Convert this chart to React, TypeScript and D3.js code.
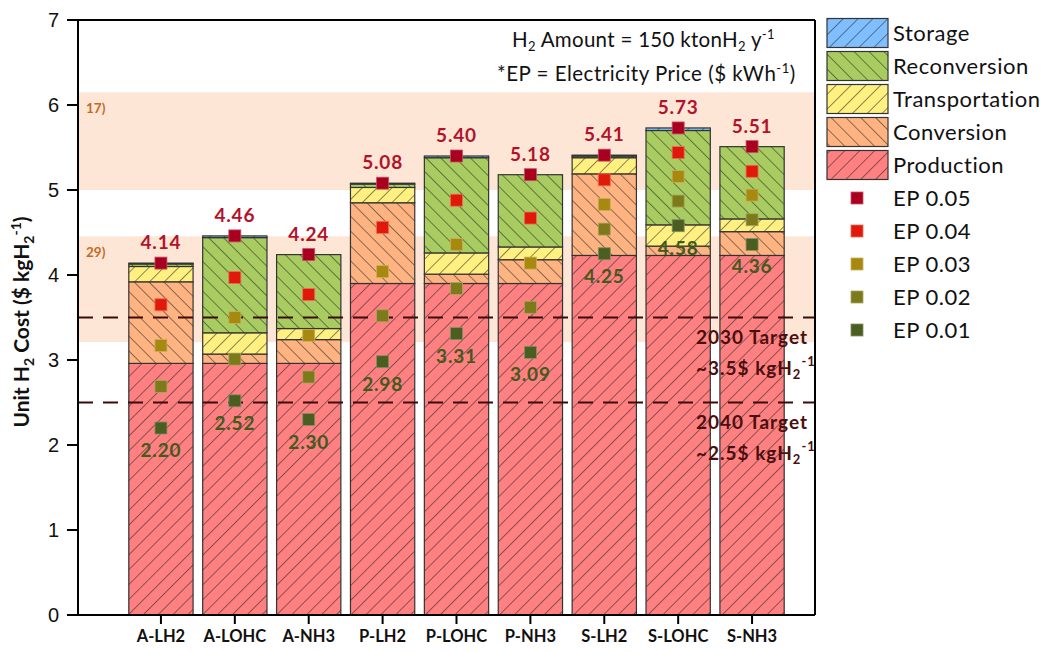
import React from "react";
import * as d3 from "d3";

// Categories (region – carrier)
const categories = ["A-LH2", "A-LOHC", "A-NH3", "P-LH2", "P-LOHC", "P-NH3", "S-LH2", "S-LOHC", "S-NH3"];

// Cost components ($ per kg H2)
const production = [2.96, 2.96, 2.96, 3.9, 3.9, 3.9, 4.23, 4.23, 4.23];
const conversion = [0.96, 0.11, 0.28, 0.95, 0.11, 0.28, 0.96, 0.11, 0.28];
const transportation = [0.18, 0.25, 0.13, 0.18, 0.25, 0.15, 0.19, 0.25, 0.15];
const reconversion = [0.03, 1.12, 0.87, 0.04, 1.12, 0.85, 0.02, 1.11, 0.85];
const storage = [0.01, 0.02, 0.0, 0.01, 0.02, 0.0, 0.01, 0.03, 0.0];

// Total unit cost at different electricity prices ($ per kWh)
const ep05 = [4.14, 4.46, 4.24, 5.08, 5.4, 5.18, 5.41, 5.73, 5.51];
const ep04 = [3.65, 3.97, 3.77, 4.56, 4.88, 4.67, 5.12, 5.44, 5.22];
const ep03 = [3.17, 3.5, 3.29, 4.04, 4.36, 4.14, 4.83, 5.16, 4.94];
const ep02 = [2.69, 3.01, 2.8, 3.52, 3.84, 3.62, 4.54, 4.87, 4.65];
const ep01 = [2.2, 2.52, 2.3, 2.98, 3.31, 3.09, 4.25, 4.58, 4.36];

const yTicks = [0, 1, 2, 3, 4, 5, 6, 7];

// Literature ranges shown as shaded bands
const bands = [
  { label: "17)", lo: 5.0, hi: 6.15 },
  { label: "29)", lo: 3.21, hi: 4.455 },
];

const targets = [
  { year: "2030 Target", value: 3.5, text: "~3.5$ kgH" },
  { year: "2040 Target", value: 2.5, text: "~2.5$ kgH" },
];

const components = [
  { key: "Production", values: production, fill: "#ff8080", hatch: "fwd" },
  { key: "Conversion", values: conversion, fill: "#ffb380", hatch: "back" },
  { key: "Transportation", values: transportation, fill: "#fff080", hatch: "fwd" },
  { key: "Reconversion", values: reconversion, fill: "#a8cc60", hatch: "back" },
  { key: "Storage", values: storage, fill: "#80bfff", hatch: "fwd" },
];

const epSeries = [
  { key: "EP 0.05", values: ep05, fill: "#a8001e", stroke: "#c8506a" },
  { key: "EP 0.04", values: ep04, fill: "#df1a0a", stroke: "#f06a5a" },
  { key: "EP 0.03", values: ep03, fill: "#a88910", stroke: "#c8b060" },
  { key: "EP 0.02", values: ep02, fill: "#7d7a1c", stroke: "#a8a660" },
  { key: "EP 0.01", values: ep01, fill: "#4b5e20", stroke: "#80906a" },
];

const W = 1048;
const H = 652;
const plot = { left: 78, right: 815, top: 20, bottom: 615 };
const FONT = "Lato, 'Open Sans', sans-serif";

export default function App() {
  const y = d3.scaleLinear().domain([0, 7]).range([plot.bottom, plot.top]);
  const x = d3
    .scaleBand<string>()
    .domain(categories)
    .range([124, 789])
    .paddingInner(0.13)
    .paddingOuter(0.065);

  const table = categories.map((c, i) => {
    const row: Record<string, number | string> = { cat: c };
    components.forEach((comp) => (row[comp.key] = comp.values[i]));
    return row;
  });
  const stacked = d3.stack<any>().keys(components.map((c) => c.key))(table);

  const bw = x.bandwidth();
  const markerSize = 12;

  const legendRows = [...components].reverse();

  return (
    <svg
      width={W}
      height={H}
      style={{ position: "absolute", left: 0, top: 0, background: "#fff" }}
      fontFamily={FONT}
    >
      <defs>
        {components.map((c) => (
          <pattern
            key={c.key}
            id={`hatch-${c.key}`}
            patternUnits="userSpaceOnUse"
            width={10.5}
            height={10.5}
            patternTransform={`rotate(${c.hatch === "fwd" ? 45 : -45})`}
          >
            <rect width={10.5} height={10.5} fill={c.fill} />
            <line x1={0} y1={0} x2={0} y2={10.5} stroke="#2a2a2a" strokeWidth={1.1} />
          </pattern>
        ))}
      </defs>

      {/* shaded literature bands */}
      {bands.map((b) => (
        <g key={b.label}>
          <rect
            x={plot.left}
            width={plot.right - plot.left}
            y={y(b.hi)}
            height={y(b.lo) - y(b.hi)}
            fill="#fde6d6"
          />
          <text
            x={plot.left + 8}
            y={y(b.hi) + 21}
            fontSize={13.5}
            fontWeight="bold"
            fill="#c46a28"
          >
            {b.label}
          </text>
        </g>
      ))}

      {/* stacked bars */}
      {stacked.map((layer, li) => (
        <g key={layer.key}>
          {layer.map((d, i) => {
            const h = y(d[0]) - y(d[1]);
            if (h <= 0) return null;
            return (
              <rect
                key={i}
                x={x(categories[i])}
                y={y(d[1])}
                width={bw}
                height={h}
                fill={`url(#hatch-${components[li].key})`}
                stroke="#333"
                strokeWidth={1.2}
              />
            );
          })}
        </g>
      ))}

      {/* target lines */}
      {targets.map((t) => (
        <line
          key={t.year}
          x1={plot.left}
          x2={plot.right}
          y1={y(t.value)}
          y2={y(t.value)}
          stroke="#3b0b0b"
          strokeWidth={2}
          strokeDasharray="15,10"
        />
      ))}

      {/* electricity price markers */}
      {epSeries.map((s) => (
        <g key={s.key}>
          {s.values.map((v, i) => (
            <rect
              key={i}
              x={(x(categories[i]) as number) + bw / 2 - markerSize / 2}
              y={y(v) - markerSize / 2}
              width={markerSize}
              height={markerSize}
              fill={s.fill}
              stroke={s.stroke}
              strokeWidth={0.8}
            />
          ))}
        </g>
      ))}

      {/* total labels (EP 0.05) */}
      {ep05.map((v, i) => (
        <text
          key={`t${i}`}
          x={(x(categories[i]) as number) + bw / 2}
          y={y(v) - 14}
          textAnchor="middle"
          fontSize={19}
          fontWeight="bold"
          letterSpacing={0.8}
          fill="#b3122a"
        >
          {v.toFixed(2)}
        </text>
      ))}

      {/* lowest-price labels (EP 0.01) */}
      {ep01.map((v, i) => (
        <text
          key={`b${i}`}
          x={(x(categories[i]) as number) + bw / 2}
          y={y(v) + 29}
          textAnchor="middle"
          fontSize={19}
          fontWeight="bold"
          letterSpacing={0.8}
          fill="#435a1c"
        >
          {v.toFixed(2)}
        </text>
      ))}

      {/* target annotations */}
      {targets.map((t) => (
        <g key={`a${t.year}`} fontWeight="bold" fill="#4a0f0f" fontSize={19} letterSpacing={1}>
          <text x={696} y={y(t.value) + 26}>
            {t.year}
          </text>
          <text x={696} y={y(t.value) + 57}>
            {t.text}
            <tspan fontSize={13} dy={4}>2</tspan>
            <tspan fontSize={13} dy={-13}>-1</tspan>
          </text>
        </g>
      ))}

      {/* plot frame */}
      <line x1={plot.left} x2={plot.left} y1={plot.top} y2={plot.bottom} stroke="#000" strokeWidth={2} />
      <line x1={plot.left - 11} x2={plot.right} y1={plot.top} y2={plot.top} stroke="#000" strokeWidth={2} />
      <line x1={plot.right} x2={plot.right} y1={plot.top} y2={plot.bottom} stroke="#000" strokeWidth={2} />
      <line x1={plot.left - 11} x2={plot.right} y1={plot.bottom} y2={plot.bottom} stroke="#000" strokeWidth={2} />

      {/* y axis ticks */}
      {yTicks.map((t) => (
        <g key={t}>
          <line x1={plot.left - 11} x2={plot.left} y1={y(t)} y2={y(t)} stroke="#000" strokeWidth={2} />
          <text
            x={plot.left - 19}
            y={y(t) + 7}
            textAnchor="end"
            fontSize={20}
            fontFamily="'Liberation Sans', Arial, sans-serif"
            fill="#111"
          >
            {t}
          </text>
        </g>
      ))}

      {/* x axis ticks and labels */}
      {categories.map((c) => {
        const cx = (x(c) as number) + bw / 2;
        return (
          <g key={c}>
            <line x1={cx} x2={cx} y1={plot.bottom} y2={plot.bottom + 9} stroke="#000" strokeWidth={2} />
            <text x={cx} y={plot.bottom + 27} textAnchor="middle" fontSize={16.5} fontWeight="bold" fill="#111">
              {c}
            </text>
          </g>
        );
      })}

      {/* y axis title */}
      <text
        transform={`translate(29, 322) rotate(-90)`}
        textAnchor="middle"
        fontSize={21}
        fontWeight="bold"
        fill="#111"
      >
        Unit H<tspan fontSize={14} dy={5}>2</tspan>
        <tspan dy={-5}> Cost ($ kgH</tspan>
        <tspan fontSize={14} dy={5}>2</tspan>
        <tspan fontSize={14} dy={-13}>-1</tspan>
        <tspan dy={8}>)</tspan>
      </text>

      {/* information text */}
      <text x={512} y={47} fontSize={20.5} fill="#111" letterSpacing={0.3}>
        H<tspan fontSize={13} dy={4}>2</tspan>
        <tspan dy={-4}> Amount = 150 ktonH</tspan>
        <tspan fontSize={13} dy={4}>2</tspan>
        <tspan dy={-4}> y</tspan>
        <tspan fontSize={13} dy={-8}>-1</tspan>
      </text>
      <text x={497} y={81} fontSize={20.5} fill="#111" letterSpacing={0.5}>
        *EP = Electricity Price ($ kWh<tspan fontSize={13} dy={-8}>-1</tspan>
        <tspan dy={8}>)</tspan>
      </text>

      {/* legend */}
      {legendRows.map((c, i) => {
        const cy = 33 + i * 33;
        return (
          <g key={c.key}>
            <rect x={827} y={cy - 14.5} width={61} height={29} fill={`url(#hatch-${c.key})`} stroke="#333" strokeWidth={1.2} />
            <text x={893} y={cy + 8} fontSize={22} fill="#111" letterSpacing={0.5}>
              {c.key}
            </text>
          </g>
        );
      })}
      {epSeries.map((s, i) => {
        const cy = 33 + (i + 5) * 33;
        return (
          <g key={s.key}>
            <rect
              x={857 - markerSize / 2}
              y={cy - markerSize / 2}
              width={markerSize}
              height={markerSize}
              fill={s.fill}
              stroke={s.stroke}
              strokeWidth={0.8}
            />
            <text x={893} y={cy + 8} fontSize={22} fill="#111" letterSpacing={0.5}>
              {s.key}
            </text>
          </g>
        );
      })}
    </svg>
  );
}
